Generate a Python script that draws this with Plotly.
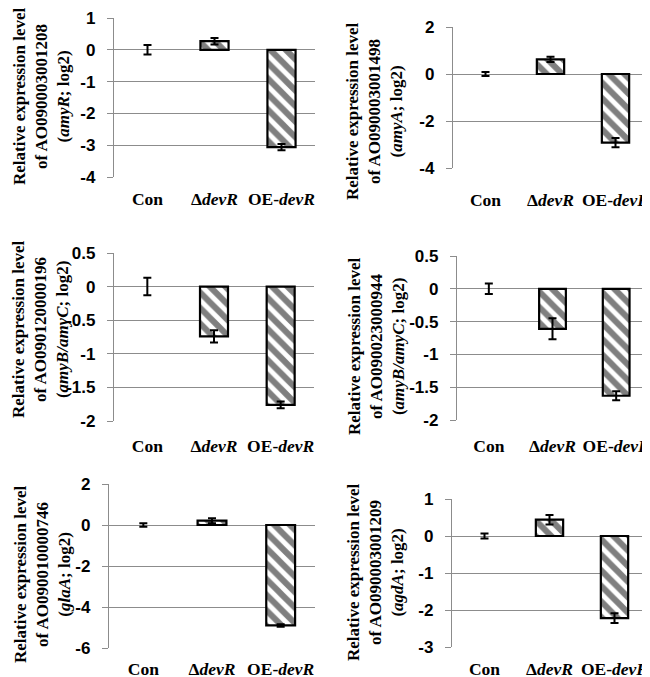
import plotly.graph_objects as go
from plotly.subplots import make_subplots

# categories shared by all six panels
categories = ["Con", "\u0394<i>devR</i>", "OE-<i>devR</i>"]

# gene ids and names for the y titles
gene_ids = ["AO090003001208", "AO090003001498", "AO090120000196",
            "AO090023000944", "AO090010000746", "AO090003001209"]
gene_names = ["amyR", "amyA", "amyB/amyC", "amyB/amyC", "glaA", "agdA"]

# mean relative expression (log2) per panel
values_amyR = [0, 0.27, -3.06]
values_amyA = [0, 0.62, -2.92]
values_amyBC1 = [0, -0.74, -1.76]
values_amyBC2 = [0, -0.61, -1.63]
values_glaA = [0, 0.21, -4.90]
values_agdA = [0, 0.44, -2.22]

# error bars per panel
err_amyR = [0.15, 0.10, 0.10]
err_amyA = [0.09, 0.11, 0.20]
err_amyBC1 = [0.13, 0.09, 0.05]
err_amyBC2 = [0.08, 0.16, 0.07]
err_glaA = [0.08, 0.12, 0.06]
err_agdA = [0.07, 0.13, 0.13]

# y tick values per panel
ticks_amyR = [1, 0, -1, -2, -3, -4]
ticks_amyA = [2, 0, -2, -4]
ticks_amyBC1 = [0.5, 0, -0.5, -1, -1.5, -2]
ticks_amyBC2 = [0.5, 0, -0.5, -1, -1.5, -2]
ticks_glaA = [2, 0, -2, -4, -6]
ticks_agdA = [1, 0, -1, -2, -3]

values = [values_amyR, values_amyA, values_amyBC1, values_amyBC2, values_glaA, values_agdA]
errors = [err_amyR, err_amyA, err_amyBC1, err_amyBC2, err_glaA, err_agdA]
yticks = [ticks_amyR, ticks_amyA, ticks_amyBC1, ticks_amyBC2, ticks_glaA, ticks_agdA]

W, H = 650, 677
OFF = 8  # the page body adds an 8px margin around the figure

# plot boxes in page pixels: x0, x1, top, bottom
boxes = [(114, 315, 18, 177), (453, 648, 27, 168),
         (114, 314, 253, 421), (457, 648, 256, 420),
         (109, 315, 484, 648), (452, 647, 499, 647)]
# y title centres in page pixels
title_pos = [(42, 97), (375, 112), (40, 330), (376, 347), (42, 575), (375, 573)]
# gap below plot for category labels
x_standoff = [9, 19, 12, 13, 8, 9]

GRID = "#8c8c8c"


def px_x(x):
    return (x - OFF) / W


def px_y(y):
    return 1 - (y - OFF) / H


fig = make_subplots(rows=3, cols=2)

for i in range(6):
    row, col = i // 2 + 1, i % 2 + 1
    fig.add_trace(
        go.Bar(
            x=categories,
            y=values[i],
            width=0.42,
            marker=dict(
                color="white",
                line=dict(color="black", width=[0, 2.2, 2.2]),
                pattern=dict(shape="\\", fgcolor="black", bgcolor="white", size=11, solidity=0.55),
            ),
            error_y=dict(type="data", array=errors[i], color="black", thickness=2, width=4),
            showlegend=False,
        ),
        row=row, col=col
    )

    x0, x1, t, b = boxes[i]
    ax = "" if i == 0 else str(i + 1)
    tv = yticks[i]
    fig.update_layout({
        "xaxis" + ax: dict(
            domain=[px_x(x0), px_x(x1)],
            automargin=False,
            showgrid=False, zeroline=False, showline=False, ticks="",
            tickangle=0,
            ticklabelstandoff=x_standoff[i],
            ticklabeloverflow="allow",
            tickfont=dict(family="Liberation Serif", size=17.5, color="black", weight="bold"),
        ),
        "yaxis" + ax: dict(
            domain=[px_y(b), px_y(t)],
            automargin=False,
            range=[min(tv), max(tv)],
            tickvals=tv,
            ticktext=[f"{v:g}" for v in tv],
            showgrid=True, gridcolor=GRID, gridwidth=1.3,
            zeroline=True, zerolinecolor=GRID, zerolinewidth=1.3,
            showline=True, linecolor=GRID, linewidth=1.3,
            ticks="outside", ticklen=6, tickcolor=GRID, tickwidth=1.3,
            ticklabelstandoff=8,
            ticklabeloverflow="allow",
            tickfont=dict(family="Liberation Sans", size=17, color="black", weight="bold"),
        ),
    })

    tx, ty = title_pos[i]
    fig.add_annotation(
        x=px_x(tx), y=px_y(ty), xref="paper", yref="paper",
        xanchor="center", yanchor="middle", textangle=-90, showarrow=False,
        text=f"Relative expression level<br>of {gene_ids[i]}<br>(<i>{gene_names[i]}</i>; log2)",
        font=dict(family="Liberation Serif", size=17, color="black", weight="bold"),
    )

fig.update_layout(
    width=W, height=H,
    margin=dict(l=0, r=0, t=0, b=0),
    paper_bgcolor="white",
    plot_bgcolor="white",
)

fig.write_html("out.html")
